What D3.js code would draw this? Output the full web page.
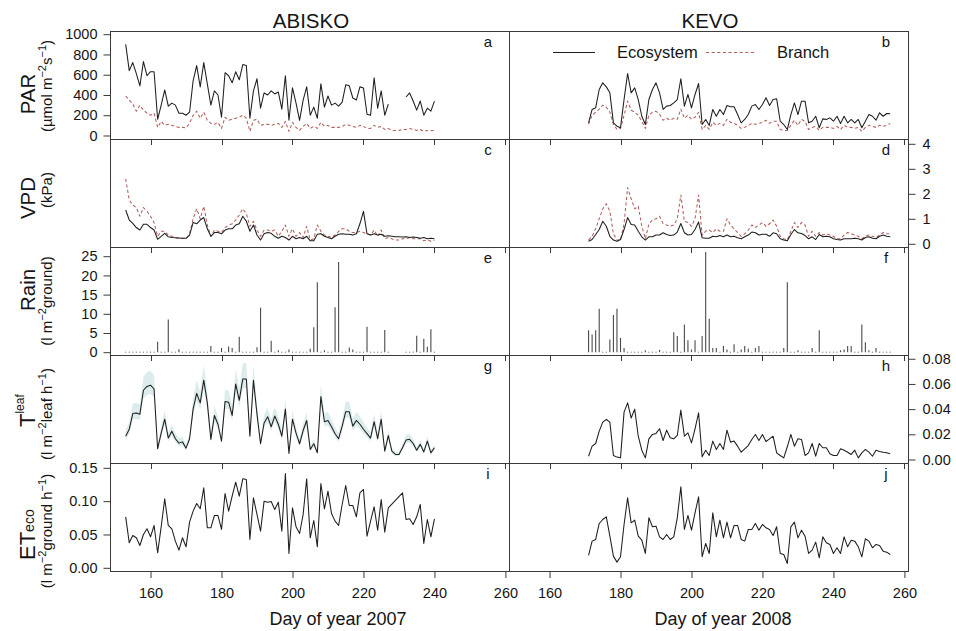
<!DOCTYPE html>
<html>
<head>
<meta charset="utf-8">
<script src="https://cdn.jsdelivr.net/npm/d3@7"></script>
<style>
  body { margin: 0; background: #fff; }
  svg { display: block; }
  text { font-family: "Liberation Sans", Arial, Helvetica, sans-serif; fill: #151515; }
</style>
</head>
<body>
<svg id="chart" width="956" height="631"></svg>
<script>
// ---------------- Data: Abisko, day of year 153-240 (2007) ----------------
const abDays = d3.range(153, 241);

const abParEco = [
  900, 640, 720, 610, 490, 730, 590, 630, 630, 160,
  300, 450, 290, 320, 300, 220, 220, 200, 230, 540,
  690, 480, 720, 510, 300, 440, 400, 180, 620, 590,
  520, 630, 550, 700, 690, 170, 440, 560, 270, 420,
  400, 440, 410, 430, 260, 590, 150, 470, 320, 150,
  350, 480, 200, 280, 170, 510, 280, 390, 300, 320,
  290, 330, 500, 490, 370, 350, 480, 470, 210, 200,
  570, 270, 440, 200, 310, null, null, null, null, 380,
  420, 340, 250, 340, 200, 270, 240, 340
];
const abParBranch = [
  390, 350, 310, 240, 300, 250, 220, 200, 220, 80,
  140, 100, 110, 100, 90, 80, 80, 75, 120, 200,
  240, 170, 230, 150, 120, 110, 130, 70, 180, 150,
  160, 170, 180, 200, 170, 40, 150, 160, 100, 110,
  110, 100, 110, 120, 80, 140, 40, 130, 80, 50,
  90, 120, 70, 90, 70, 130, 90, 100, 80, 80,
  80, 90, 110, 100, 90, 80, 100, 90, 70, 70,
  100, 80, 90, 60, 70, 50, 50, 50, 60, 60,
  70, 60, 50, 60, 40, 50, 50, 50
];
const abVpdEco = [
  1.35, 0.95, 0.82, 0.65, 0.55, 0.78, 0.78, 0.65, 0.55, 0.18,
  0.30, 0.42, 0.28, 0.25, 0.24, 0.23, 0.22, 0.22, 0.35, 0.85,
  0.80, 0.95, 1.05, 0.60, 0.30, 0.45, 0.45, 0.40, 0.55, 0.60,
  0.60, 0.75, 0.80, 1.10, 0.90, 0.50, 0.75, 0.35, 0.15, 0.40,
  0.45, 0.42, 0.30, 0.22, 0.30, 0.25, 0.15, 0.30, 0.20, 0.25,
  0.20, 0.30, 0.12, 0.12, 0.38, 0.40, 0.30, 0.25, 0.20, 0.30,
  0.38, 0.40, 0.38, 0.38, 0.35, 0.40, 0.80, 1.30, 0.40, 0.35,
  0.40, 0.35, 0.38, 0.30, 0.32, 0.30, 0.28, 0.28, 0.27, 0.28,
  0.25, 0.27, 0.25, 0.22, 0.25, 0.20, 0.22, 0.20
];
const abVpdBranch = [
  2.60, 1.75, 1.55, 1.45, 1.10, 1.45, 1.30, 1.10, 0.85, 0.30,
  0.50, 0.50, 0.35, 0.30, 0.25, 0.22, 0.22, 0.20, 0.40, 1.00,
  1.40, 1.00, 1.50, 0.75, 0.30, 0.55, 0.50, 0.45, 0.65, 0.75,
  0.80, 0.95, 1.15, 1.40, 1.20, 0.70, 0.90, 0.55, 0.30, 0.55,
  0.55, 0.50, 0.55, 0.30, 0.50, 0.75, 0.30, 0.60, 0.30, 0.45,
  0.25, 0.70, 0.15, 0.20, 0.75, 0.50, 0.35, 0.30, 0.25, 0.35,
  0.50, 0.60, 0.60, 0.50, 0.45, 0.45, 0.50, 0.45, 0.40, 0.35,
  0.55, 0.30, 0.55, 0.20, 0.25, 0.20, 0.15, 0.15, 0.20, 0.20,
  0.25, 0.20, 0.20, 0.20, 0.12, 0.15, 0.10, 0.15
];
const abRain = [
  0, 0, 0, 0, 0, 0, 0, 0, 0, 2.7,
  0, 0, 8.5, 0, 0, 0.8, 0, 0, 0, 0,
  0, 0, 0, 0, 1.6, 0, 0, 1.1, 0, 1.5,
  1.1, 0, 4.0, 0, 0, 0, 0, 1.3, 11.6, 0,
  0, 3.0, 0, 0.5, 0, 0, 0.7, 0, 0, 0,
  0, 0, 0.9, 6.5, 18.2, 0, 0.5, 0, 0, 11.7,
  23.5, 0, 0, 1.2, 0.7, 0, 0, 0, 6.6, 0,
  0, 0, 0, 5.8, 0, null, null, null, null, 0,
  0, 0, 4.3, 0, 3.5, 1.4, 6.0, 0
];
const abTleaf = [
  0.0185, 0.024, 0.0365, 0.037, 0.036, 0.055, 0.058, 0.059, 0.056, 0.0085,
  0.021, 0.032, 0.017, 0.0225, 0.0165, 0.013, 0.014, 0.009, 0.0165, 0.040,
  0.0525, 0.045, 0.063, 0.045, 0.016, 0.035, 0.028, 0.0145, 0.046, 0.0455,
  0.035, 0.060, 0.047, 0.064, 0.064, 0.0185, 0.063, 0.036, 0.0125, 0.029,
  0.034, 0.026, 0.0345, 0.028, 0.0185, 0.040, 0.0048, 0.032, 0.021, 0.0125,
  0.023, 0.031, 0.008, 0.0125, 0.0053, 0.050, 0.030, 0.031, 0.026, 0.0205,
  0.0165, 0.0265, 0.038, 0.038, 0.0265, 0.031, 0.028, 0.024, 0.0205, 0.017,
  0.030, 0.0165, 0.032, 0.0066, 0.019, 0.0066, 0.004, 0.004, 0.0093, 0.0154,
  0.016, 0.0127, 0.0074, 0.012, 0.006, 0.0146, 0.0053, 0.0093
];
const abTleafLo = [
  0.0157, 0.0206, 0.0319, 0.0323, 0.0314, 0.0485, 0.0512, 0.0521, 0.0494, 0.0067,
  0.0179, 0.0278, 0.0143, 0.0193, 0.0139, 0.0107, 0.0116, 0.0071, 0.0139, 0.035,
  0.0463, 0.0395, 0.0557, 0.0395, 0.0134, 0.0305, 0.0242, 0.0121, 0.0404, 0.040,
  0.0305, 0.053, 0.0413, 0.0566, 0.0566, 0.0157, 0.0557, 0.0314, 0.0103, 0.0251,
  0.0296, 0.0224, 0.0301, 0.0242, 0.0157, 0.035, 0.0033, 0.0278, 0.0179, 0.0103,
  0.0197, 0.0269, 0.0062, 0.0103, 0.0038, 0.044, 0.026, 0.0269, 0.0224, 0.0175,
  0.0139, 0.0229, 0.0332, 0.0332, 0.0229, 0.0269, 0.0242, 0.0206, 0.0175, 0.0143,
  0.026, 0.0139, 0.0278, 0.0049, 0.0161, 0.0049, 0.0026, 0.0026, 0.0074, 0.0129,
  0.0134, 0.0104, 0.0057, 0.0098, 0.0044, 0.0121, 0.0038, 0.0074
];
const abTleafHi = [
  0.0232, 0.0296, 0.0442, 0.0448, 0.0436, 0.0659, 0.0694, 0.0705, 0.067, 0.0114,
  0.0261, 0.039, 0.0214, 0.0278, 0.0208, 0.0167, 0.0179, 0.012, 0.0208, 0.0483,
  0.0629, 0.0542, 0.0752, 0.0542, 0.0202, 0.0425, 0.0343, 0.0185, 0.0553, 0.0547,
  0.0425, 0.0717, 0.0565, 0.0764, 0.0764, 0.0232, 0.0752, 0.0436, 0.0161, 0.0354,
  0.0413, 0.0319, 0.0419, 0.0343, 0.0232, 0.0483, 0.0071, 0.039, 0.0261, 0.0161,
  0.0284, 0.0378, 0.0109, 0.0161, 0.0077, 0.060, 0.0366, 0.0378, 0.0319, 0.0255,
  0.0208, 0.0325, 0.046, 0.046, 0.0325, 0.0378, 0.0343, 0.0296, 0.0255, 0.0214,
  0.0366, 0.0208, 0.039, 0.0092, 0.0237, 0.0092, 0.0062, 0.0062, 0.0124, 0.0195,
  0.0202, 0.0164, 0.0102, 0.0155, 0.0085, 0.0186, 0.0077, 0.0124
];
const abEt = [
  0.0765, 0.0375, 0.0485, 0.045, 0.0335, 0.05, 0.0585, 0.0465, 0.0635, 0.0225,
  0.0615, 0.1035, 0.0635, 0.0585, 0.04, 0.0265, 0.045, 0.0315, 0.0685, 0.085,
  0.0965, 0.0885, 0.12, 0.06, 0.06, 0.0785, 0.0785, 0.0575, 0.1115, 0.085,
  0.1075, 0.1285, 0.1075, 0.1335, 0.1325, 0.0425, 0.105, 0.08, 0.055, 0.1,
  0.0985, 0.0995, 0.0875, 0.0985, 0.055, 0.1415, 0.0215, 0.09, 0.0615, 0.0515,
  0.08, 0.1335, 0.045, 0.071, 0.0315, 0.1265, 0.0885, 0.115, 0.0815, 0.07,
  0.0635, 0.095, 0.1235, 0.0935, 0.0935, 0.0765, 0.1125, 0.1175, 0.0475, 0.07,
  0.0915, 0.0565, 0.1025, 0.0535, 0.09, null, null, null, 0.1125, 0.0725,
  0.0735, 0.065, 0.0765, 0.095, 0.0365, 0.0725, 0.0465, 0.0735
];

// ---------------- Data: Kevo, day of year 171-256 (2008) ----------------
const kvDays = d3.range(171, 257);

const kvParEco = [
  125, 257, 273, 454, 520, 480, 421, 125, 92, 76,
  355, 612, 421, 470, 355, 190, 108, 355, 454, 520,
  421, 257, 290, 296, 322, 355, 560, 290, 405, 273,
  405, 513, 108, 158, 99, 257, 190, 257, 207, 296,
  283, 283, 207, 125, 158, 207, 290, 306, 257, 306,
  372, 296, 355, 362, 141, 108, 59, 207, 322, 207,
  339, 339, 125, 141, 190, 76, 164, 158, 174, 141,
  190, 118, 190, 125, 158, 125, 158, 76, 141, 207,
  190, 151, 224, 190, 217, 214
];
const kvParBranch = [
  110, 200, 230, 260, 300, 280, 230, 110, 60, 70,
  200, 340, 250, 230, 200, 140, 70, 200, 230, 240,
  210, 150, 170, 150, 170, 160, 260, 170, 200, 160,
  180, 230, 60, 100, 60, 130, 100, 120, 100, 160,
  130, 120, 100, 70, 80, 100, 120, 110, 120, 130,
  150, 120, 140, 140, 60, 50, 50, 100, 150, 100,
  160, 140, 60, 80, 90, 50, 80, 80, 80, 70,
  90, 60, 100, 80, 80, 70, 80, 40, 80, 100,
  90, 80, 100, 90, 100, 120
];
const kvVpdEco = [
  0.10, 0.17, 0.37, 0.57, 0.90, 0.70, 0.30, 0.15, 0.10, 0.17,
  0.57, 1.05, 0.77, 0.75, 0.50, 0.28, 0.15, 0.28, 0.28, 0.35,
  0.35, 0.44, 0.37, 0.33, 0.35, 0.47, 0.81, 0.44, 0.35, 0.37,
  0.57, 0.87, 0.24, 0.22, 0.22, 0.30, 0.28, 0.33, 0.28, 0.35,
  0.28, 0.30, 0.24, 0.20, 0.28, 0.35, 0.47, 0.44, 0.35, 0.38,
  0.38, 0.30, 0.44, 0.40, 0.20, 0.15, 0.12, 0.37, 0.57, 0.44,
  0.41, 0.33, 0.20, 0.28, 0.17, 0.37, 0.28, 0.30, 0.28, 0.20,
  0.17, 0.15, 0.20, 0.20, 0.20, 0.22, 0.20, 0.15, 0.25, 0.28,
  0.22, 0.20, 0.30, 0.35, 0.30, 0.28
];
const kvVpdBranch = [
  0.15, 0.30, 0.60, 1.00, 1.40, 1.60, 1.30, 0.40, 0.15, 0.15,
  0.80, 2.25, 1.80, 1.40, 1.50, 0.70, 0.20, 0.80, 0.95, 1.00,
  1.10, 0.80, 0.75, 0.70, 0.75, 1.00, 1.95, 0.90, 0.85, 0.70,
  1.00, 1.95, 0.35, 0.50, 0.55, 0.45, 0.60, 0.50, 0.50, 1.00,
  0.75, 0.60, 0.45, 0.30, 0.40, 0.55, 0.75, 0.65, 0.75, 0.85,
  0.70, 0.80, 0.95, 0.70, 0.30, 0.20, 0.15, 0.50, 0.85, 0.65,
  0.85, 0.75, 0.30, 0.50, 0.30, 0.45, 0.35, 0.40, 0.35, 0.30,
  0.20, 0.20, 0.35, 0.45, 0.40, 0.35, 0.30, 0.20, 0.30, 0.35,
  0.30, 0.25, 0.35, 0.45, 0.40, 0.40
];
const kvRain = [
  5.7, 4.6, 5.7, 11.3, 0, 0, 3.3, 9.7, 11.3, 3.7,
  1.1, 0, 0, 0, 0, 0, 0.5, 0, 0, 0,
  0.6, 0, 0, 0, 5.2, 4.2, 0, 7.2, 3.1, 0.7,
  3.1, 0, 4.2, 26.1, 8.7, 1.1, 1.1, 0, 1.6, 0.7,
  0, 2.1, 0, 0.7, 1.6, 0.9, 0, 1.1, 1.6, 0,
  0, 0, 0, 0, 0, 1.1, 18.2, 0, 0, 0.5,
  0, 0, 0, 1.1, 0, 5.7, 0, 0, 0, 0,
  0, 0.5, 0.7, 1.6, 1.6, 0, 0, 7.2, 2.6, 0.5,
  0, 1.1, 0, 0, 0, 0
];
const kvTleaf = [
  0.0026, 0.0106, 0.0127, 0.0225, 0.0297, 0.0318, 0.0297, 0.0032, 0.0019, 0.0013,
  0.0376, 0.045, 0.033, 0.040, 0.0185, 0.0074, 0.0013, 0.0164, 0.0199, 0.0207,
  0.0244, 0.0151, 0.0233, 0.0172, 0.0164, 0.0191, 0.0392, 0.0185, 0.0212, 0.0132,
  0.0244, 0.0371, 0.0021, 0.0074, 0.0032, 0.0146, 0.008, 0.0127, 0.008, 0.0233,
  0.0138, 0.0146, 0.0106, 0.0058, 0.0085, 0.0111, 0.0159, 0.0199, 0.0151, 0.0199,
  0.0143, 0.0164, 0.0185, 0.0053, 0.0032, 0.0013, 0.0101, 0.0199, 0.0106, 0.0164,
  0.0159, 0.0032, 0.0053, 0.0127, 0.0026, 0.0127, 0.0093, 0.0093, 0.0045, 0.0032,
  0.0032, 0.0085, 0.0074, 0.0058, 0.004, 0.0074, 0.0013, 0.0053, 0.008, 0.0058,
  0.0026, 0.0074, 0.0064, 0.0058, 0.0053, 0.0045
];
const kvEt = [
  0.0185, 0.04, 0.0425, 0.0665, 0.0725, 0.0765, 0.0475, 0.0175, 0.0085, 0.0165,
  0.065, 0.105, 0.0675, 0.0715, 0.0475, 0.0415, 0.0215, 0.075, 0.0615, 0.0625,
  0.0465, 0.0425, 0.05, 0.0425, 0.0465, 0.075, 0.1215, 0.0575, 0.0785, 0.0565,
  0.0825, 0.1065, 0.0165, 0.0365, 0.0215, 0.0825, 0.0465, 0.0715, 0.045, 0.0685,
  0.045, 0.0635, 0.0635, 0.0425, 0.04, 0.0575, 0.0575, 0.0665, 0.0565, 0.065,
  0.06, 0.0575, 0.0485, 0.0615, 0.0215, 0.02, 0.0065, 0.0615, 0.0685, 0.045,
  0.0565, 0.0475, 0.0215, 0.0265, 0.0385, 0.015, 0.0465, 0.0375, 0.035, 0.0215,
  0.03, 0.0215, 0.0465, 0.0315, 0.0415, 0.04, 0.0315, 0.0165, 0.0435, 0.04,
  0.03, 0.035, 0.0335, 0.025, 0.0235, 0.02
];

// ---------------- Axis ticks and labels ----------------
const dayTicks = [160, 180, 200, 220, 240, 260];
const parTicks = [0, 200, 400, 600, 800, 1000];
const vpdTicks = [0, 1, 2, 3, 4];
const rainTicks = [0, 5, 10, 15, 20, 25];
const tleafTicks = [0, 0.02, 0.04, 0.06, 0.08];
const etTicks = [0, 0.05, 0.10, 0.15];
const siteNames = ["ABISKO", "KEVO"];
const yearLabels = ["Day of year 2007", "Day of year 2008"];
const panelLetters = [["a", "c", "e", "g", "i"], ["b", "d", "f", "h", "j"]];
const legendNames = ["Ecosystem", "Branch"];

// ---------------- Layout ----------------
const svg = d3.select("#chart");
const ROW_TOP = 31.5, ROW_H = 108, NROW = 5;
const PANEL_X = [[110.5, 509.5], [509.5, 908.5]];
const X_DOMAIN = [148.72, 261.15];
const ECO_COLOR = "#1e1e1e";
const BRANCH_COLOR = "#b2605b";
const BAND_COLOR = "#dcecec";
const FRAME_COLOR = "#3a3a3a";
const FONT = '"Liberation Sans", Arial, Helvetica, sans-serif';

const rowTop = i => ROW_TOP + i * ROW_H;
const rowBottom = i => ROW_TOP + (i + 1) * ROW_H;

const yDomains = [
  [-39.5, 1026.6],     // PAR
  [-0.148, 4.172],     // VPD
  [-0.86, 27.27],      // Rain
  [-0.00318, 0.0826],  // T leaf
  [-0.00555, 0.1565]   // ET eco
];
const yScales = yDomains.map((dom, i) =>
  d3.scaleLinear().domain(dom).range([rowBottom(i), rowTop(i)]));
const xScales = PANEL_X.map(r => d3.scaleLinear().domain(X_DOMAIN).range(r));

const sites = [
  { days: abDays, par: [abParEco, abParBranch], vpd: [abVpdEco, abVpdBranch],
    rain: abRain, tleaf: abTleaf, band: [abTleafLo, abTleafHi], et: abEt },
  { days: kvDays, par: [kvParEco, kvParBranch], vpd: [kvVpdEco, kvVpdBranch],
    rain: kvRain, tleaf: kvTleaf, band: null, et: kvEt }
];

const toPoints = (days, vals) => days.map((d, i) => ({ d, v: vals[i] }));

function drawLine(g, x, y, days, vals, opts) {
  let pts = toPoints(days, vals);
  if (opts.connect) pts = pts.filter(p => p.v != null);
  const line = d3.line()
    .defined(p => p.v != null)
    .x(p => x(p.d)).y(p => y(p.v));
  g.append("path")
    .attr("d", line(pts))
    .attr("fill", "none")
    .attr("stroke", opts.color)
    .attr("stroke-width", opts.width || 1.05)
    .attr("stroke-dasharray", opts.dash || null)
    .attr("stroke-linejoin", "round");
}

const plot = svg.append("g");
const DASH = "3.2,2.4";

sites.forEach((s, si) => {
  const x = xScales[si];
  const g = plot.append("g");

  // Row 0: PAR
  drawLine(g, x, yScales[0], s.days, s.par[1], { color: BRANCH_COLOR, dash: DASH, width: 1.05 });
  drawLine(g, x, yScales[0], s.days, s.par[0], { color: ECO_COLOR });

  // Row 1: VPD
  drawLine(g, x, yScales[1], s.days, s.vpd[1], { color: BRANCH_COLOR, dash: DASH, width: 1.05 });
  drawLine(g, x, yScales[1], s.days, s.vpd[0], { color: ECO_COLOR });

  // Row 2: rain as vertical bars, dry days as dots
  const rainPts = toPoints(s.days, s.rain).filter(p => p.v != null);
  const yR = yScales[2];
  g.append("g").selectAll("line")
    .data(rainPts.filter(p => p.v > 0)).join("line")
    .attr("x1", p => x(p.d)).attr("x2", p => x(p.d))
    .attr("y1", yR(0)).attr("y2", p => yR(p.v))
    .attr("stroke", "#4a4a4a").attr("stroke-width", 1.1);
  g.append("g").selectAll("circle")
    .data(rainPts.filter(p => p.v === 0)).join("circle")
    .attr("cx", p => x(p.d)).attr("cy", yR(0)).attr("r", 0.6)
    .attr("fill", "#777");

  // Row 3: T leaf with uncertainty band
  const yT = yScales[3];
  if (s.band) {
    const bandPts = s.days.map((d, i) => ({ d, lo: s.band[0][i], hi: s.band[1][i] }));
    g.append("path")
      .attr("d", d3.area().x(p => x(p.d)).y0(p => yT(p.lo)).y1(p => yT(p.hi))(bandPts))
      .attr("fill", BAND_COLOR).attr("stroke", "none");
  }
  drawLine(g, x, yT, s.days, s.tleaf, { color: ECO_COLOR });

  // Row 4: ET eco (missing days joined)
  drawLine(g, x, yScales[4], s.days, s.et, { color: ECO_COLOR, connect: true });
});

// ---------------- Frames and ticks ----------------
const frame = svg.append("g");
PANEL_X.forEach((px, pi) => {
  for (let r = 0; r < NROW; r++) {
    frame.append("rect")
      .attr("x", px[0]).attr("y", rowTop(r))
      .attr("width", px[1] - px[0]).attr("height", ROW_H)
      .attr("fill", "none").attr("stroke", FRAME_COLOR).attr("stroke-width", 1);
    // small inward ticks along the top edge of rows below the first
    if (r > 0) {
      frame.append("g").selectAll("line").data(dayTicks).join("line")
        .attr("x1", d => Math.round(xScales[pi](d)) + 0.5)
        .attr("x2", d => Math.round(xScales[pi](d)) + 0.5)
        .attr("y1", rowTop(r)).attr("y2", rowTop(r) + 5.5)
        .attr("stroke", FRAME_COLOR).attr("stroke-width", 1);
    }
  }
  // bottom day-of-year axis
  const ax = frame.append("g")
    .attr("transform", `translate(0,${rowBottom(NROW - 1)})`)
    .call(d3.axisBottom(xScales[pi]).tickValues(dayTicks).tickSize(6.5).tickPadding(10).tickFormat(d3.format("d")))
    .attr("font-size", 14.5).attr("font-family", FONT);
  ax.select(".domain").remove();
  ax.selectAll(".tick line").attr("stroke", FRAME_COLOR);
  ax.selectAll("text").attr("fill", "#151515");
});

function styleAxis(g) {
  g.attr("font-size", 14.5).attr("font-family", FONT);
  g.select(".domain").remove();
  g.selectAll(".tick line").attr("stroke", FRAME_COLOR);
  g.selectAll("text").attr("fill", "#151515");
}

// left axes (Abisko panel): PAR, Rain, ET
[[0, parTicks, d3.format("d")], [2, rainTicks, d3.format("d")], [4, etTicks, d3.format(".2f")]]
  .forEach(([r, ticks, fmt]) => {
    svg.append("g").attr("transform", `translate(${PANEL_X[0][0]},0)`)
      .call(d3.axisLeft(yScales[r]).tickValues(ticks).tickSize(7).tickPadding(6).tickFormat(fmt))
      .call(styleAxis);
  });
// right axes (Kevo panel): VPD, T leaf
[[1, vpdTicks, d3.format("d")], [3, tleafTicks, d3.format(".2f")]]
  .forEach(([r, ticks, fmt]) => {
    svg.append("g").attr("transform", `translate(${PANEL_X[1][1]},0)`)
      .call(d3.axisRight(yScales[r]).tickValues(ticks).tickSize(7).tickPadding(7).tickFormat(fmt))
      .call(styleAxis);
  });

// ---------------- Text ----------------
const letterX = [488, 886];
panelLetters.forEach((letters, pi) => {
  letters.forEach((l, r) => {
    svg.append("text").attr("x", letterX[pi]).attr("y", rowTop(r) + 15.5)
      .attr("text-anchor", "middle").attr("font-size", 15).text(l);
  });
});

siteNames.forEach((n, i) => {
  const cx = (PANEL_X[i][0] + PANEL_X[i][1]) / 2 + 1;
  svg.append("text").attr("x", cx).attr("y", 28)
    .attr("text-anchor", "middle").attr("font-size", 20.5).text(n);
});

[338, 723].forEach((cx, i) => {
  svg.append("text").attr("x", cx).attr("y", 624.5)
    .attr("text-anchor", "middle").attr("font-size", 18).text(yearLabels[i]);
});

// legend in panel b
const lg = svg.append("g");
lg.append("line").attr("x1", 553).attr("x2", 595).attr("y1", 52.5).attr("y2", 52.5)
  .attr("stroke", ECO_COLOR).attr("stroke-width", 1.05);
lg.append("text").attr("x", 617).attr("y", 58).attr("font-size", 16.5).text(legendNames[0]);
lg.append("line").attr("x1", 706).attr("x2", 755).attr("y1", 52.5).attr("y2", 52.5)
  .attr("stroke", BRANCH_COLOR).attr("stroke-width", 1.05).attr("stroke-dasharray", DASH);
lg.append("text").attr("x", 777).attr("y", 58).attr("font-size", 16.5).text(legendNames[1]);

// rotated y-axis titles built from pieces [text, size, raise]
function vLabel(x, y, anchor, parts) {
  const t = svg.append("text")
    .attr("transform", `translate(${x},${y}) rotate(-90)`)
    .attr("text-anchor", anchor);
  let lift = 0;
  parts.forEach(([str, size, raise]) => {
    const r = raise || 0;
    t.append("tspan").attr("font-size", size).attr("dy", lift - r).text(str);
    lift = r;
  });
}

const SUP = 11, MAIN = 15;
vLabel(35, 94, "middle", [["PAR", 20.5]]);
vLabel(52, 86, "middle", [["(\u00b5mol m", MAIN], ["\u22122", SUP, 6], ["s", MAIN], ["\u22121", SUP, 6], [")", MAIN]]);
vLabel(35, 198, "middle", [["VPD", 20.5]]);
vLabel(52, 190, "middle", [["(kPa)", MAIN]]);
vLabel(35, 290, "middle", [["Rain", 20.5]]);
vLabel(52, 301, "middle", [["(l m", MAIN], ["\u22122", SUP, 6], ["ground)", MAIN]]);
vLabel(35, 427, "start", [["T", 22], ["leaf", 12, 11]]);
vLabel(52, 414, "middle", [["(l m", MAIN], ["\u22122", SUP, 6], ["leaf h", MAIN], ["\u22121", SUP, 6], [")", MAIN]]);
vLabel(35, 560, "start", [["ET", 22], ["eco", 14, 1]]);
vLabel(52, 531, "middle", [["(l m", MAIN], ["\u22122", SUP, 6], ["ground h", MAIN], ["\u22121", SUP, 6], [")", MAIN]]);
</script>
</body>
</html>
